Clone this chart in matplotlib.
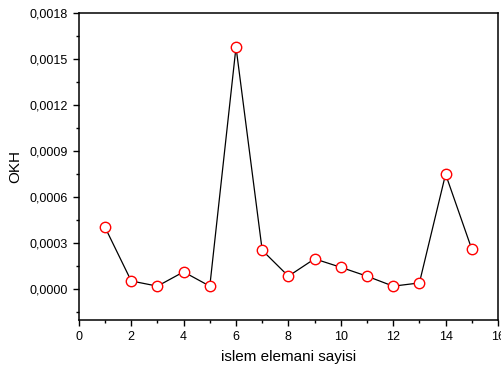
import matplotlib
matplotlib.use('Agg')
import matplotlib.pyplot as plt
from matplotlib.ticker import MultipleLocator, FuncFormatter

plt.rcParams['font.family'] = ['Liberation Sans', 'DejaVu Sans']

# islem elemani sayisi vs OKH
n_elem = [1, 2, 3, 4, 5, 6, 7, 8, 9, 10, 11, 12, 13, 14, 15]
okh = [0.000404, 0.000054, 0.000020, 0.000113, 0.000020, 0.001578, 0.000254,
       0.000085, 0.000198, 0.000143, 0.000085, 0.000020, 0.000041, 0.000750, 0.000261]

def comma_fmt(v, pos):
    s = f"{v:.4f}".replace('.', ',')
    return '0,0000' if s == '-0,0000' else s

fig = plt.figure(figsize=(5.02, 3.72), dpi=100)
ax = fig.add_axes([0.157, 0.140, 0.835, 0.825])

ax.plot(n_elem, okh, color='black', lw=0.9, zorder=2)
ax.plot(n_elem, okh, ls='none', marker='o', ms=7.5, mfc='white', mec='red', mew=1.0, zorder=3)

ax.set_xlim(0, 16)
ax.set_ylim(-0.0002, 0.0018)
ax.xaxis.set_major_locator(MultipleLocator(2))
ax.xaxis.set_minor_locator(MultipleLocator(1))
ax.yaxis.set_major_locator(MultipleLocator(0.0003))
ax.yaxis.set_minor_locator(MultipleLocator(0.00015))
ax.yaxis.set_major_formatter(FuncFormatter(comma_fmt))

ax.tick_params(which='both', direction='out', top=False, right=False, labelsize=9)
ax.tick_params(which='major', length=4.5, width=1)
ax.tick_params(which='minor', length=2.5, width=1)
for s in ax.spines.values():
    s.set_linewidth(1.1)

ax.set_xlabel('islem elemani sayisi', fontsize=11, labelpad=5)
ax.set_ylabel('OKH', fontsize=11, labelpad=5)

fig.savefig('out.png', dpi=100)
